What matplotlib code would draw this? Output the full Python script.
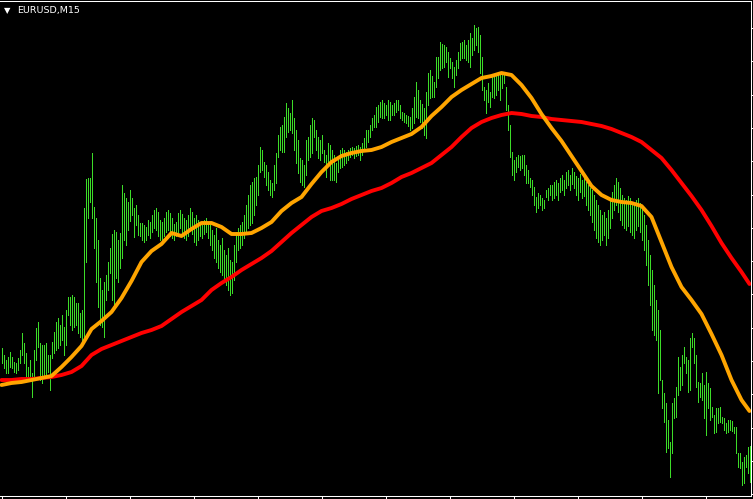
import numpy as np
import matplotlib
matplotlib.use('Agg')
import matplotlib.pyplot as plt

symbol = 'EURUSD'
timeframe = 'M15'

# bar highs / lows (price in points)
high = [152, 145, 140, 143, 148, 143, 138, 137, 142, 150,
        167, 157, 147, 133, 140, 127, 150, 172, 178, 157,
        155, 155, 157, 145, 145, 158, 168, 178, 182, 175,
        185, 173, 190, 203, 203, 205, 203, 197, 197, 187,
        190, 292, 321, 322, 322, 347, 293, 282, 260, 222,
        210, 218, 225, 238, 252, 266, 270, 268, 260, 267,
        315, 307, 302, 298, 310, 302, 292, 295, 285, 277,
        277, 275, 273, 280, 278, 285, 290, 292, 288, 280,
        278, 282, 288, 290, 287, 282, 276, 278, 287, 290,
        286, 282, 280, 285, 292, 288, 282, 285, 280, 278,
        275, 280, 282, 278, 275, 270, 265, 272, 260, 255,
        262, 250, 245, 252, 240, 238, 255, 268, 272, 275,
        278, 285, 295, 305, 315, 318, 322, 323, 335, 353,
        350, 338, 335, 328, 320, 317, 335, 347, 365, 373,
        375, 383, 397, 392, 387, 400, 382, 370, 360, 342,
        340, 335, 360, 363, 375, 382, 380, 370, 363, 360,
        365, 350, 345, 357, 355, 350, 345, 337, 340, 350,
        352, 350, 348, 350, 352, 353, 352, 354, 355, 353,
        357, 362, 370, 370, 375, 382, 385, 393, 395, 398,
        400, 397, 395, 400, 398, 395, 397, 400, 400, 395,
        388, 387, 385, 384, 383, 392, 403, 418, 410, 400,
        396, 392, 408, 427, 430, 424, 418, 443, 443, 458,
        456, 455, 453, 448, 442, 438, 433, 440, 448, 457,
        458, 460, 455, 460, 467, 462, 475, 472, 473, 465,
        443, 413, 410, 417, 408, 423, 423, 425, 427, 427,
        425, 425, 413, 395, 375, 348, 340, 343, 345, 344,
        345, 345, 335, 330, 322, 320, 313, 303, 307, 305,
        302, 300, 310, 312, 315, 315, 318, 320, 317, 322,
        325, 320, 328, 330, 325, 332, 328, 324, 322, 326,
        320, 322, 318, 315, 312, 310, 305, 300, 295, 290,
        285, 288, 282, 290, 300, 308, 315, 322, 318, 312,
        305, 302, 300, 304, 302, 298, 295, 300, 302, 297,
        292, 285, 275, 260, 245, 230, 215, 200, 190, 170,
        120, 107, 97, 80, 58, 97, 102, 113, 143, 133,
        145, 153, 143, 140, 162, 167, 162, 145, 118, 117,
        127, 115, 128, 117, 112, 93, 85, 92, 92, 93,
        83, 82, 77, 80, 80, 79, 73, 73, 47, 47,
        38, 43, 45, 53, 54]

low = [137, 132, 127, 127, 133, 132, 128, 127, 130, 137,
       145, 137, 123, 120, 123, 103, 123, 140, 153, 120,
       117, 122, 125, 128, 110, 142, 147, 150, 152, 155,
       160, 145, 155, 185, 175, 170, 173, 175, 167, 163,
       155, 160, 238, 282, 298, 282, 252, 218, 193, 175,
       173, 163, 200, 210, 227, 200, 195, 222, 218, 232,
       242, 260, 255, 270, 279, 285, 263, 275, 265, 264,
       260, 258, 260, 265, 262, 268, 272, 270, 264, 260,
       257, 264, 268, 270, 264, 262, 260, 264, 268, 272,
       266, 262, 260, 264, 270, 266, 258, 255, 260, 264,
       262, 266, 268, 262, 255, 250, 242, 238, 232, 228,
       225, 220, 215, 210, 205, 207, 220, 238, 250, 252,
       255, 262, 268, 272, 275, 277, 285, 295, 305, 328,
       330, 323, 315, 310, 305, 303, 310, 317, 343, 350,
       348, 348, 363, 368, 370, 367, 350, 337, 327, 318,
       315, 313, 325, 340, 343, 347, 363, 350, 342, 340,
       347, 338, 323, 335, 320, 320, 320, 318, 328, 332,
       333, 335, 337, 340, 343, 345, 342, 344, 345, 340,
       345, 350, 353, 358, 363, 370, 373, 373, 378, 383,
       382, 382, 385, 380, 380, 385, 385, 388, 390, 382,
       380, 378, 377, 374, 370, 372, 377, 383, 382, 378,
       372, 365, 362, 395, 402, 403, 403, 413, 422, 430,
       432, 433, 438, 423, 432, 422, 413, 425, 432, 440,
       442, 442, 440, 438, 433, 445, 450, 455, 448, 427,
       410, 400, 387, 398, 393, 403, 402, 405, 410, 400,
       412, 417, 390, 370, 343, 325, 320, 328, 333, 330,
       332, 325, 317, 317, 313, 305, 295, 288, 292, 295,
       290, 292, 303, 300, 305, 300, 302, 305, 300, 308,
       310, 305, 312, 315, 310, 316, 312, 305, 300, 308,
       302, 304, 295, 290, 285, 278, 270, 262, 258, 255,
       260, 265, 255, 262, 272, 282, 290, 295, 288, 280,
       275, 272, 270, 274, 268, 265, 262, 270, 274, 268,
       260, 250, 235, 215, 195, 170, 165, 160, 107, 120,
       92, 78, 48, 52, 23, 47, 82, 83, 105, 110,
       115, 137, 127, 108, 110, 153, 137, 113, 98, 103,
       100, 82, 65, 92, 80, 83, 67, 68, 77, 78,
       77, 70, 67, 68, 70, 69, 67, 47, 33, 32,
       15, 17, 33, 27, 18]

# moving averages, read every 5th bar (plus the last one)
ma_fast = [115, 117, 118, 120, 122, 124, 133, 143, 154, 171,
           179, 188, 202, 219, 238, 249, 256, 267, 264, 271,
           277, 277, 273, 266, 266, 267, 272, 278, 289, 297,
           303, 316, 328, 338, 344, 347, 349, 350, 353, 358,
           362, 366, 373, 384, 393, 403, 410, 416, 422, 424,
           427, 425, 415, 402, 386, 372, 359, 344, 329, 314,
           305, 300, 298, 297, 294, 283, 258, 233, 213, 200,
           186, 166, 145, 120, 100, 89]

ma_slow = [120, 120, 121, 121, 122, 123, 125, 128, 134, 145,
           151, 155, 159, 163, 167, 170, 174, 181, 188, 194,
           200, 210, 217, 223, 230, 236, 242, 249, 258, 267,
           275, 283, 289, 292, 296, 301, 305, 309, 312, 317,
           323, 327, 332, 337, 345, 353, 363, 372, 378, 382,
           385, 387, 386, 384, 383, 381, 380, 379, 378, 376,
           374, 371, 367, 363, 358, 350, 342, 330, 317, 304,
           290, 274, 257, 242, 228, 216]

n = len(high)
x = 2 * np.arange(n) + 1
ma_x = x[list(range(0, n, 5)) + [n - 1]]

fig = plt.figure(figsize=(7.53, 4.99), dpi=100, facecolor='black')
ax = fig.add_axes([0, 3 / 499, 751 / 753, 495 / 499])
ax.set_facecolor('black')

ax.vlines(x, low, high, colors='#3cdc28', linewidth=0.72, antialiased=False)
ax.plot(ma_x, ma_slow, color='#ff0000', lw=2.8, solid_capstyle='round')
ax.plot(ma_x, ma_fast, color='#ffa500', lw=2.8, solid_capstyle='round')

ax.set_xlim(-0.5, 750.5)
ax.set_ylim(4, 499)

for side in ['top', 'right', 'bottom']:
    ax.spines[side].set_color('white')
    ax.spines[side].set_linewidth(0.75)
ax.spines['left'].set_visible(False)

ax.set_xticks(x[::32])
ax.yaxis.tick_right()
ax.set_yticks(np.arange(472, 0, -33.3))
ax.tick_params(axis='x', direction='out', length=2.2, width=0.75,
               color='white', labelbottom=False)
ax.tick_params(axis='y', direction='out', length=1.6, width=0.75,
               color='white', labelright=False, left=False)

fig.text(4 / 753, 1 - 10.5 / 499, '\u25bc', color='white', fontsize=6,
         va='center', ha='left')
fig.text(17 / 753, 1 - 10.5 / 499, '%s,%s' % (symbol, timeframe),
         color='white', fontsize=6.8, va='center', ha='left')

fig.savefig('out.png', dpi=100, facecolor='black')
